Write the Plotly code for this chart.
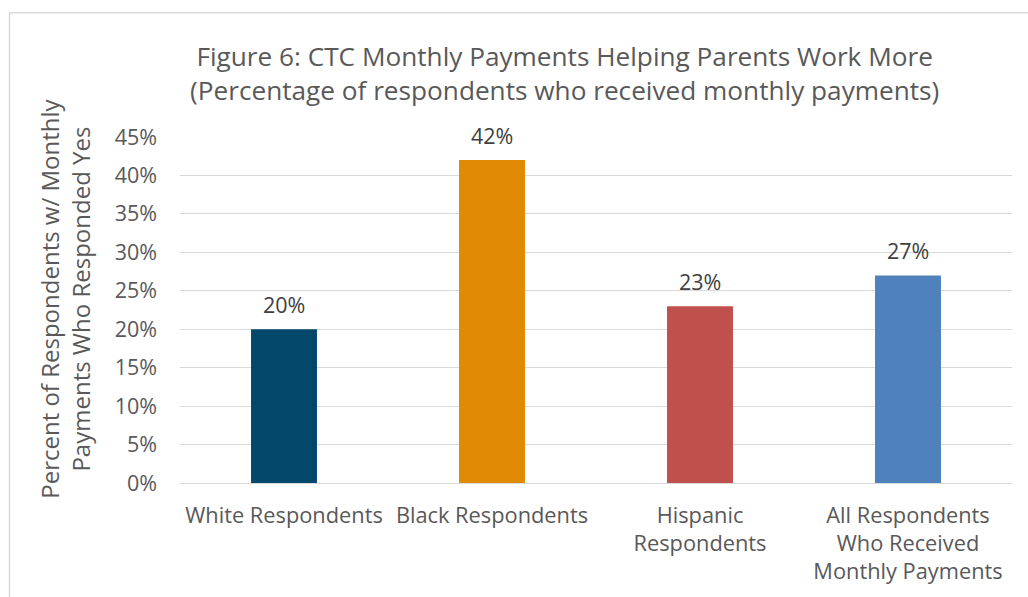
import plotly.graph_objects as go

# Survey results: share of monthly-payment recipients who said the CTC helped them work more
categories = [
    "White Respondents",
    "Black Respondents",
    "Hispanic<br>Respondents",
    "All Respondents<br>Who Received<br>Monthly Payments",
]
values = [20, 42, 23, 27]
bar_colors = ["#03476A", "#E08A05", "#C0504D", "#4F81BD"]
y_ticks = [0, 5, 10, 15, 20, 25, 30, 35, 40, 45]
y_tick_labels = [f"{v}%" for v in y_ticks]

FONT = "Open Sans"
GRAY = "#595959"

W, H = 1028, 597
M_L, M_R, M_T, M_B = 180, 16, 137, 113.5
plot_w = W - M_L - M_R
plot_h = H - M_T - M_B


def px_x(x):
    return (x - M_L) / plot_w


def px_y(y):
    return (H - M_B - y) / plot_h


fig = go.Figure(
    go.Bar(
        x=categories,
        y=values,
        marker=dict(color=bar_colors, line=dict(width=0)),
        cliponaxis=False,
    )
)

# value labels sit above each bar
value_labels = [
    dict(
        x=c, y=v, xref="x", yref="y",
        text=f"{v}%",
        showarrow=False,
        xanchor="center", yanchor="middle",
        yshift=25,
        font=dict(family=FONT, size=21.5, color="#404040"),
    )
    for c, v in zip(categories, values)
]

fig.update_layout(
    width=W,
    height=H,
    margin=dict(l=M_L, r=M_R, t=M_T, b=M_B, autoexpand=False),
    paper_bgcolor="white",
    plot_bgcolor="white",
    showlegend=False,
    bargap=0.683,
    font=dict(family=FONT, color=GRAY),
    xaxis=dict(
        showgrid=False,
        showline=False,
        zeroline=False,
        ticks="",
        ticklabelstandoff=17,
        tickfont=dict(family=FONT, size=21.8, color=GRAY),
    ),
    yaxis=dict(
        range=[0, 45],
        tickvals=y_ticks,
        ticktext=y_tick_labels,
        showgrid=True,
        gridcolor="#D9D9D9",
        gridwidth=1.3,
        zeroline=True,
        zerolinecolor="#D9D9D9",
        zerolinewidth=1.3,
        showline=False,
        ticks="",
        ticklabelstandoff=22,
        tickfont=dict(family=FONT, size=21.5, color=GRAY),
    ),
    annotations=value_labels + [
        dict(
            text="Figure 6: CTC Monthly Payments Helping Parents Work More<br>"
                 "(Percentage of respondents who received monthly payments)",
            xref="paper", yref="paper",
            x=px_x(564), y=px_y(73),
            xanchor="center", yanchor="middle",
            showarrow=False,
            font=dict(family=FONT, size=26.2, color=GRAY),
        ),
        dict(
            text="Percent of Respondents w/ Monthly<br>Payments Who Responded Yes",
            xref="paper", yref="paper",
            x=px_x(65), y=px_y(299),
            xanchor="center", yanchor="middle",
            textangle=-90,
            showarrow=False,
            font=dict(family=FONT, size=24, color=GRAY),
        ),
    ],
    shapes=[
        dict(
            type="rect",
            xref="paper", yref="paper",
            x0=px_x(9.5), y0=px_y(H + 20),
            x1=px_x(W + 20), y1=px_y(12.5),
            line=dict(color="#D9D9D9", width=1.5),
            fillcolor="rgba(0,0,0,0)",
            layer="below",
        )
    ],
)

fig.write_html("out.html")
